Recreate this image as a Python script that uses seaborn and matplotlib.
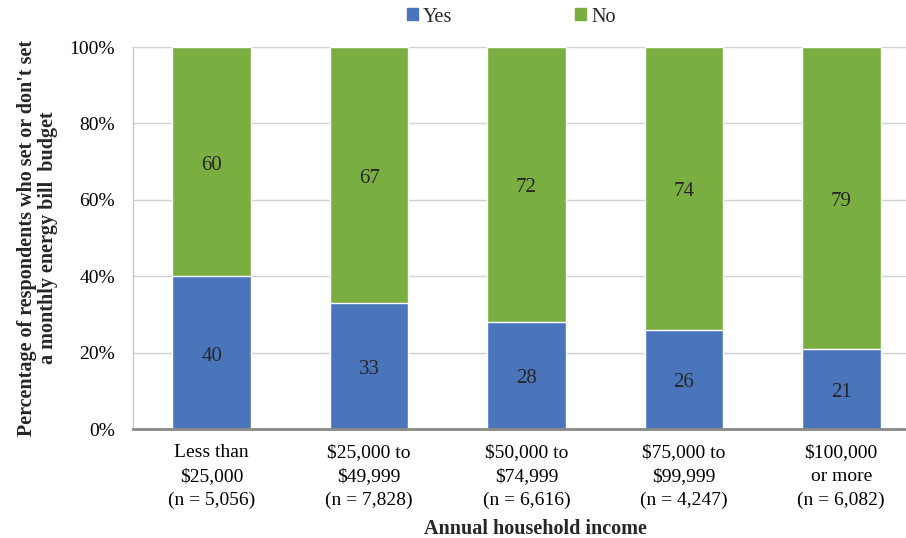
import matplotlib
matplotlib.use("Agg")
import matplotlib.pyplot as plt
from matplotlib.patches import Patch
import pandas as pd
import seaborn as sns

# data
incomes = ["Less than\n$25,000\n(n = 5,056)",
           "$25,000 to\n$49,999\n(n = 7,828)",
           "$50,000 to\n$74,999\n(n = 6,616)",
           "$75,000 to\n$99,999\n(n = 4,247)",
           "$100,000\nor more\n(n = 6,082)"]
yes_pct = [40, 33, 28, 26, 21]
no_pct = [60, 67, 72, 74, 79]
ytick_vals = [0, 20, 40, 60, 80, 100]

blue = "#4a75bb"
green = "#7bae41"

df = pd.DataFrame({"income": incomes, "yes": yes_pct, "no": no_pct})
df["total"] = df["yes"] + df["no"]

sns.set_style("white")
plt.rcParams["font.family"] = ["Liberation Serif", "DejaVu Serif"]

fig = plt.figure(figsize=(9.06, 5.38), dpi=100)
ax = fig.add_axes([133 / 906, 109 / 538, 787 / 906, 382 / 538])

# green = full stack, blue drawn over it
sns.barplot(data=df, x="income", y="total", color=green, width=0.5,
            saturation=1, ax=ax, zorder=2)
sns.barplot(data=df, x="income", y="yes", color=blue, width=0.5,
            saturation=1, ax=ax, zorder=3)

for i, (y, n) in enumerate(zip(df["yes"], df["no"])):
    ax.annotate(str(y), (i, y / 2), xytext=(0, -2.5), textcoords="offset points",
                ha="center", va="center", fontsize=15, zorder=4)
    ax.annotate(str(n), (i, y + n / 2), xytext=(0, -2.5), textcoords="offset points",
                ha="center", va="center", fontsize=15, zorder=4)

ax.set_xlim(-0.5, 4.5)
ax.set_ylim(0, 100)
ax.set_yticks(ytick_vals)
ax.set_yticklabels([f"{v}%" for v in ytick_vals])
ax.set_xticks(range(len(incomes)))
ax.set_xticklabels(incomes, linespacing=1.5)
ax.yaxis.grid(True, color="#d0d0d0", linewidth=1, zorder=0)
ax.set_axisbelow(True)

for s in ["top", "right"]:
    ax.spines[s].set_visible(False)
ax.spines["left"].set_color("#c8c8c8")
ax.spines["left"].set_linewidth(1)
ax.spines["bottom"].set_color("#888888")
ax.spines["bottom"].set_linewidth(2)
ax.spines["bottom"].set_zorder(5)

ax.tick_params(axis="y", length=0, pad=13, labelsize=14, labelcolor="black")
ax.tick_params(axis="x", length=0, pad=11, labelsize=14, labelcolor="black")

ax.set_xlabel("Annual household income", fontsize=14.5, fontweight="bold")
ax.xaxis.set_label_coords((535 - 133) / 787, -(519 - 429) / 382)
ax.set_ylabel("Percentage of respondents who set or don't set\na monthly energy bill  budget",
              fontsize=14.5, fontweight="bold", linespacing=1.05)
ax.yaxis.set_label_coords(-(133 - 58) / 787, 0.5)

handles = [Patch(color=blue, label="Yes"), Patch(color=green, label="No")]
fig.legend(handles=handles, loc="center", bbox_to_anchor=(511 / 906, 1 - 17 / 538),
           ncol=2, frameon=False, fontsize=14.5, handlelength=0.55, handleheight=0.55,
           handletextpad=0.25, columnspacing=6.1)

fig.savefig("out.png", dpi=100)
